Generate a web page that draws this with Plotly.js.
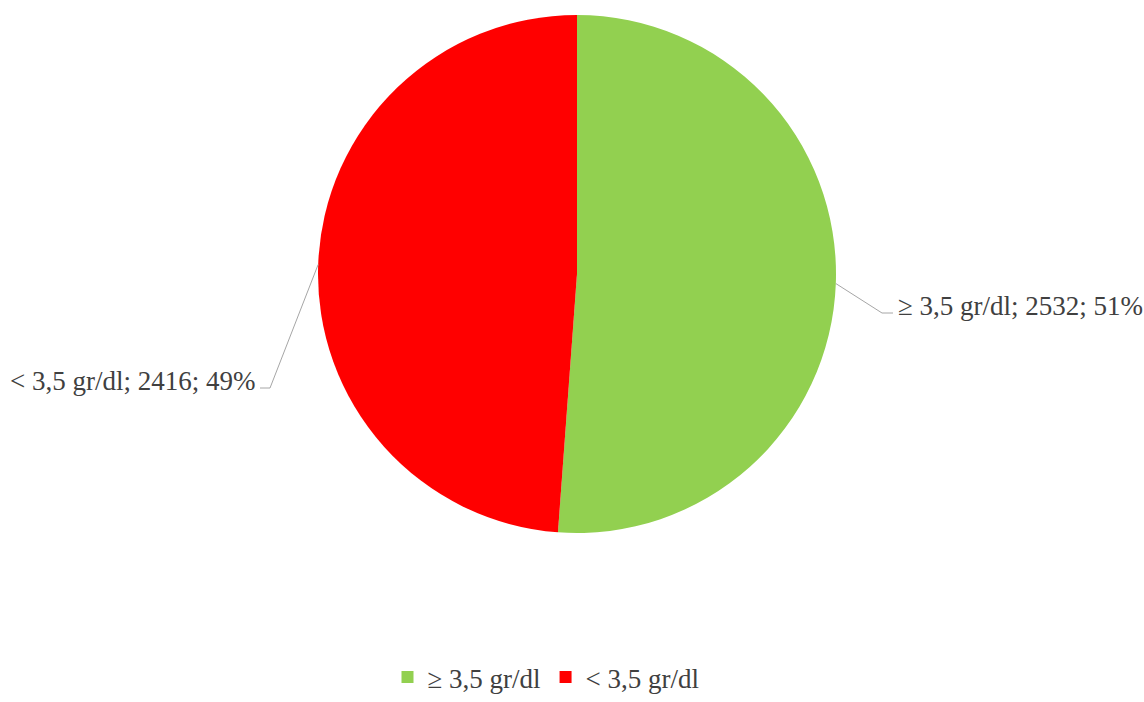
<!DOCTYPE html>
<html>
<head>
<meta charset="utf-8">
<script src="https://cdn.plot.ly/plotly-3.0.1.min.js"></script>
<style>html,body{margin:0;padding:0;background:#fff;}#chart{width:1144px;height:702px;}</style>
</head>
<body>
<div id="chart"></div>
<script>
const categories = ["≥ 3,5 gr/dl", "< 3,5 gr/dl"];
const counts = [2532, 2416];
const sliceColors = ["#92d050", "#ff0000"];

const W = 1144, H = 702;
const cx = 577, cy = 274, R = 259;
const total = counts.reduce((a, b) => a + b, 0);
const FONT = "'Liberation Serif', 'Times New Roman', Times, serif";

// label placement (layout only)
const labelLayout = [
  {elbow: [882, 313], end: [893, 313], text: [896, 306], anchor: "left"},
  {elbow: [270, 388], end: [260, 388], text: [257, 381], anchor: "right"}
];

const px = x => x / W;
const py = y => 1 - y / H;

const shapes = [];
const annotations = [];
let cum = 0;
counts.forEach((v, i) => {
  const frac = v / total;
  const mid = (cum + frac / 2) * 2 * Math.PI;
  cum += frac;
  const ex = cx + R * Math.sin(mid);
  const ey = cy - R * Math.cos(mid);
  const L = labelLayout[i];
  shapes.push({
    type: "path", xref: "paper", yref: "paper",
    path: `M ${px(ex)} ${py(ey)} L ${px(L.elbow[0])} ${py(L.elbow[1])} L ${px(L.end[0])} ${py(L.end[1])}`,
    line: {color: "#a6a6a6", width: 1}
  });
  const pct = Math.round(frac * 100);
  annotations.push({
    xref: "paper", yref: "paper",
    x: px(L.text[0]), y: py(L.text[1]),
    xanchor: L.anchor, yanchor: "middle",
    text: `${categories[i]}; ${v}; ${pct}%`,
    showarrow: false,
    font: {family: FONT, size: 27, color: "#404040"}
  });
});

const trace = {
  type: "pie",
  labels: categories,
  values: counts,
  marker: {colors: sliceColors, line: {width: 0}},
  sort: false,
  direction: "clockwise",
  rotation: 0,
  textinfo: "none",
  hoverinfo: "label+value+percent",
  domain: {x: [px(cx - R), px(cx + R)], y: [py(cy + R), py(cy - R)]}
};

const layout = {
  width: W, height: H,
  margin: {l: 0, r: 0, t: 0, b: 0},
  paper_bgcolor: "#ffffff",
  showlegend: true,
  legend: {
    orientation: "h", x: px(546), xanchor: "center", y: 0, yanchor: "bottom",
    bgcolor: "rgba(0,0,0,0)",
    font: {family: FONT, size: 27, color: "#404040"},
    itemwidth: 30
  },
  shapes: shapes,
  annotations: annotations
};

Plotly.newPlot("chart", [trace], layout, {displayModeBar: false, staticPlot: true});
</script>
</body>
</html>
